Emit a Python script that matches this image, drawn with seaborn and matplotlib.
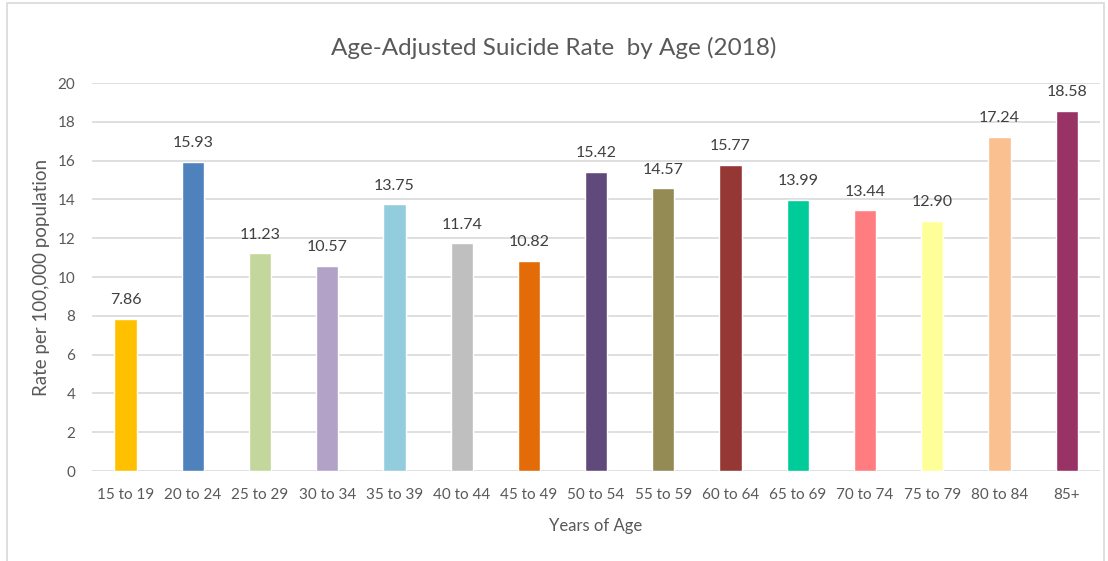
import matplotlib
matplotlib.use("Agg")
import matplotlib.pyplot as plt
import pandas as pd
import seaborn as sns

# Data
age_groups = ["15 to 19", "20 to 24", "25 to 29", "30 to 34", "35 to 39", "40 to 44",
              "45 to 49", "50 to 54", "55 to 59", "60 to 64", "65 to 69", "70 to 74",
              "75 to 79", "80 to 84", "85+"]
rates = [7.86, 15.93, 11.23, 10.57, 13.75, 11.74, 10.82, 15.42, 14.57, 15.77,
         13.99, 13.44, 12.90, 17.24, 18.58]
bar_colors = ["#FFC000", "#4F81BD", "#C3D69B", "#B2A2C7", "#93CDDD", "#BFBFBF",
              "#E36C09", "#604A7B", "#948A54", "#953735", "#00CC99", "#FF7C80",
              "#FFFF99", "#FAC090", "#993366"]

df = pd.DataFrame({"Age": age_groups, "Rate": rates})

sns.set_style("white")
plt.rcParams["font.family"] = ["Lato", "DejaVu Sans"]
text_color = "#595959"

fig = plt.figure(figsize=(11.08, 5.61), dpi=100)
ax = fig.add_axes([0.083, 0.1604, 0.910, 0.6916])

sns.barplot(df, x="Age", y="Rate", hue="Age", palette=bar_colors, saturation=1,
            width=0.33, legend=False, ax=ax, zorder=3)

# Value labels above bars
for i, v in enumerate(rates):
    ax.text(i, v + 0.6, f"{v:.2f}", ha="center", va="bottom",
            fontsize=11.5, color="#404040")

ax.set_ylim(0, 20)
ax.set_yticks(range(0, 21, 2))
ax.set_xlim(-0.5, len(age_groups) - 0.5)
ax.grid(axis="y", color="#D9D9D9", linewidth=1.2, zorder=0)
for s in ax.spines.values():
    s.set_visible(False)
ax.tick_params(axis="both", length=0, labelsize=11, labelcolor=text_color)
ax.tick_params(axis="x", pad=12)
ax.tick_params(axis="y", pad=12)
ax.set_xlabel("Years of Age", fontsize=12, color=text_color, labelpad=12)
ax.set_ylabel("Rate per 100,000 population", fontsize=13.5, color=text_color)
ax.yaxis.set_label_coords(-0.0417, 0.5)

fig.text(0.5, 0.915, "Age-Adjusted Suicide Rate  by Age (2018)", ha="center",
         va="center", fontsize=17.5, color=text_color)

# Outer chart frame
frame = plt.Rectangle((0.0065, -0.05), 0.99, 1.044, transform=fig.transFigure,
                      fill=False, edgecolor="#D9D9D9", linewidth=1.2)
fig.patches.append(frame)

fig.savefig("out.png", dpi=100)
